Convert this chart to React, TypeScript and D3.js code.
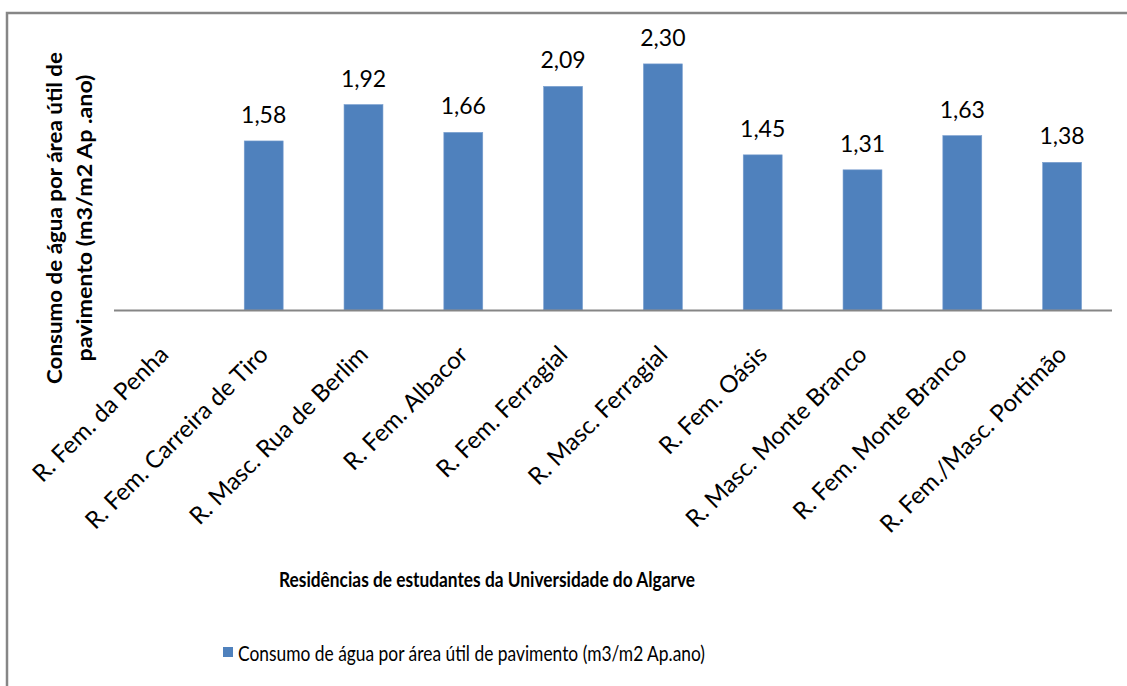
import React from "react";
import * as d3 from "d3";

const categories: string[] = [
  "R. Fem. da Penha",
  "R. Fem. Carreira de Tiro",
  "R. Masc. Rua de Berlim",
  "R. Fem. Albacor",
  "R. Fem. Ferragial",
  "R. Masc. Ferragial",
  "R. Fem. Oásis",
  "R. Masc. Monte Branco",
  "R. Fem. Monte Branco",
  "R. Fem./Masc. Portimão",
];

const values: (number | null)[] = [null, 1.58, 1.92, 1.66, 2.09, 2.3, 1.45, 1.31, 1.63, 1.38];

const seriesName = "Consumo de água por área útil de pavimento (m3/m2 Ap.ano)";
const xTitle = "Residências de estudantes da Universidade do Algarve";
const yTitleLines = ["Consumo de água por área útil de", "pavimento (m3/m2 Ap .ano)"];

const W = 1127;
const H = 686;
const FONT = "Lato, 'Open Sans', sans-serif";
const BAR = "#4F81BD";
const GRAY = "#868686";

export default function App() {
  const x = d3
    .scaleBand<string>()
    .domain(categories)
    .range([114, 1112])
    .paddingInner(0.61)
    .paddingOuter(0.305);
  const y = d3.scaleLinear().domain([0, 2.5]).range([310, 42.5]);
  const fmt = (v: number) => d3.format(".2f")(v).replace(".", ",");

  return (
    <svg
      width={W}
      height={H}
      style={{ position: "absolute", left: 0, top: 0, background: "#fff" }}
      fontFamily={FONT}
    >
      <rect x={0} y={0} width={W} height={H} fill="#fff" />
      <rect x={7} y={13} width={W + 50} height={H + 50} fill="none" stroke={GRAY} strokeWidth={2.5} />

      {/* bars */}
      {categories.map((c, i) => {
        const v = values[i];
        if (v == null) return null;
        const bx = x(c)!;
        const bw = x.bandwidth();
        return (
          <g key={c}>
            <rect x={bx} y={y(v)} width={bw} height={y(0) - y(v)} fill={BAR} stroke="#7a9fcf" strokeWidth={0.6} />
            <text x={bx + bw / 2} y={y(v) - 18} textAnchor="middle" fontSize={23} fill="#000">
              {fmt(v)}
            </text>
          </g>
        );
      })}

      {/* axis line */}
      <line x1={114} x2={1112} y1={310.5} y2={310.5} stroke={GRAY} strokeWidth={2} />

      {/* category labels */}
      {categories.map((c) => {
        const cx = x(c)! + x.bandwidth() / 2;
        return (
          <text
            key={"l" + c}
            transform={`translate(${cx + 6},${356}) rotate(-45)`}
            textAnchor="end"
            fontSize={24}
            fill="#000"
          >
            {c}
          </text>
        );
      })}

      {/* y title */}
      {yTitleLines.map((t, i) => (
        <text
          key={"y" + i}
          transform={`translate(${62 + i * 30},${218}) rotate(-90)`}
          textAnchor="middle"
          fontSize={21}
          fontWeight="bold"
          fill="#000"
          textLength={i === 0 ? 332 : 287}
          lengthAdjust="spacingAndGlyphs"
        >
          {t}
        </text>
      ))}

      {/* x title */}
      <text
        x={487}
        y={587}
        textAnchor="middle"
        fontSize={21}
        fontWeight="bold"
        fill="#000"
        textLength={416}
        lengthAdjust="spacingAndGlyphs"
      >
        {xTitle}
      </text>

      {/* legend */}
      <rect x={223} y={647} width={10} height={10} fill={BAR} />
      <text x={238} y={661} fontSize={22} fill="#000" textLength={467} lengthAdjust="spacingAndGlyphs">
        {seriesName}
      </text>
    </svg>
  );
}
